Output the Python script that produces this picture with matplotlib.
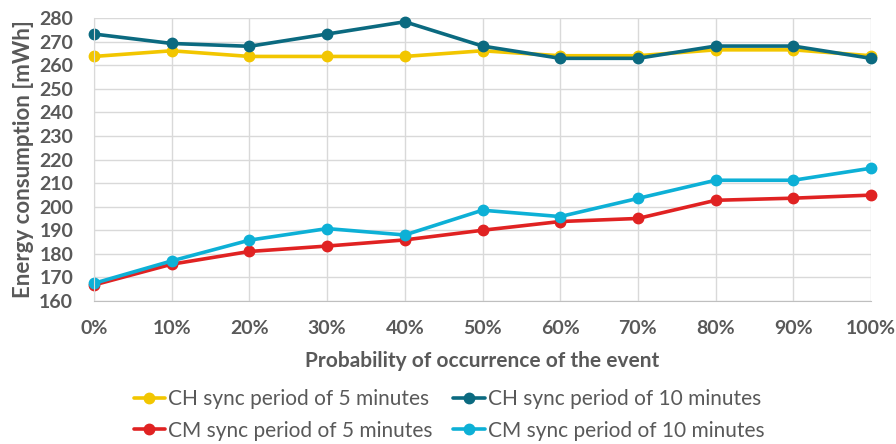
import matplotlib.pyplot as plt
from matplotlib.ticker import PercentFormatter

# probability of occurrence of the event (%)
prob = [0, 10, 20, 30, 40, 50, 60, 70, 80, 90, 100]

# energy consumption in mWh
ch_5min = [263.7, 266.1, 263.7, 263.7, 263.7, 266.1, 264.0, 264.0, 266.5, 266.5, 264.0]
ch_10min = [273.2, 269.2, 268.0, 273.2, 278.4, 268.1, 262.9, 262.9, 268.1, 268.1, 262.9]
cm_5min = [166.8, 175.6, 181.0, 183.3, 185.9, 190.0, 193.7, 195.0, 202.7, 203.6, 204.9]
cm_10min = [167.5, 177.0, 185.8, 190.7, 188.0, 198.5, 195.8, 203.5, 211.2, 211.2, 216.3]

labels = ["CH sync period of 5 minutes", "CH sync period of 10 minutes",
          "CM sync period of 5 minutes", "CM sync period of 10 minutes"]
colors = ["#F2C600", "#0B6A80", "#E02222", "#0DB0D6"]

TXT = "#595959"
plt.rcParams["font.family"] = ["Lato", "DejaVu Sans"]

fig = plt.figure(figsize=(8.96, 4.44), dpi=100)
ax = fig.add_axes([94 / 896, 1 - 301 / 444, (871 - 94) / 896, (301 - 18) / 444])

lines = []
for ys, lab, c in zip([ch_5min, ch_10min, cm_5min, cm_10min], labels, colors):
    ln, = ax.plot(prob, ys, color=c, lw=2.6, marker="o", ms=7.5, label=lab,
                  solid_capstyle="round", clip_on=False)
    lines.append(ln)

ax.set_xlim(0, 100)
ax.set_ylim(160, 280)
ax.set_xticks(prob)
ax.set_yticks(range(160, 281, 10))
ax.xaxis.set_major_formatter(PercentFormatter(decimals=0))
ax.grid(True, color="#d9d9d9", lw=1)
ax.set_axisbelow(True)
for s in ["top", "right"]:
    ax.spines[s].set_visible(False)
ax.spines["left"].set_color("#d9d9d9")
ax.spines["bottom"].set_color("#bfbfbf")
ax.tick_params(length=0, labelsize=14, labelcolor=TXT)
ax.tick_params(axis="y", pad=15)
ax.tick_params(axis="x", pad=14)
for t in ax.get_xticklabels() + ax.get_yticklabels():
    t.set_fontweight("bold")

ax.set_xlabel("Probability of occurrence of the event", fontsize=15,
              fontweight="bold", color=TXT, labelpad=10)
ax.set_ylabel("Energy consumption [mWh]", fontsize=16,
              fontweight="bold", color=TXT, labelpad=4)

# row-major order for the 2-column legend
order = [0, 2, 1, 3]
fig.legend([lines[i] for i in order], [labels[i] for i in order],
           loc="center", bbox_to_anchor=(449 / 896, 1 - 415 / 444), ncol=2,
           frameon=False, fontsize=15, labelcolor=TXT, handlelength=1.5,
           handletextpad=0.15, columnspacing=1.0, labelspacing=0.55,
           borderaxespad=0)

fig.savefig("out.png", dpi=100)
